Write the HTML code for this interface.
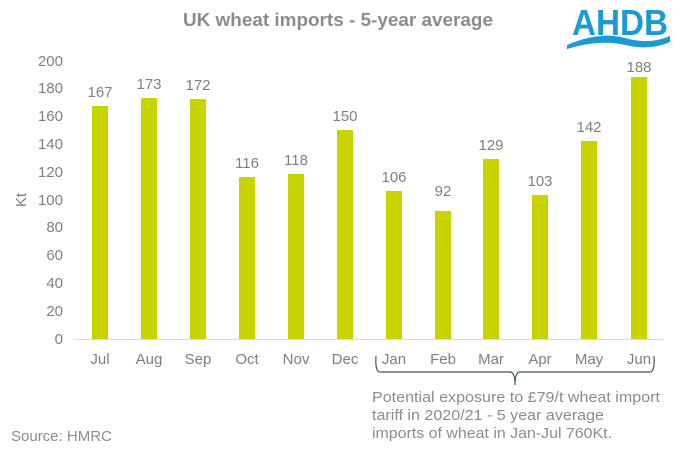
<!DOCTYPE html><html><head><style>body{margin:0;background:#fff}</style></head><body>
<svg width="677" height="452" xmlns="http://www.w3.org/2000/svg" font-family="Liberation Sans, Arial, sans-serif">
<text x="338" y="26" text-anchor="middle" font-size="18" font-weight="bold" fill="#8c8c8c" textLength="310" lengthAdjust="spacingAndGlyphs">UK wheat imports - 5-year average</text>
<text x="620" y="35" text-anchor="middle" font-size="36" font-weight="bold" fill="#1d9ad6" textLength="96" lengthAdjust="spacingAndGlyphs">AHDB</text>
<path d="M567 45 Q600 31 625 38 Q650 45 670 36 L670 42 Q650 51 625 45 Q600 39 567 49Z" fill="#1d9ad6"/>
<g font-size="15" fill="#7f7f7f" text-anchor="end">
<text x="63" y="344">0</text><text x="63" y="316">20</text><text x="63" y="288">40</text><text x="63" y="260">60</text><text x="63" y="232">80</text><text x="63" y="205">100</text><text x="63" y="177">120</text><text x="63" y="149">140</text><text x="63" y="121">160</text><text x="63" y="93">180</text><text x="63" y="66">200</text>
</g>
<text transform="translate(26,200) rotate(-90)" text-anchor="middle" font-size="15" fill="#7f7f7f">Kt</text>
<line x1="75" y1="339.5" x2="663" y2="339.5" stroke="#d9d9d9"/>
<g font-size="15" fill="#7f7f7f" text-anchor="middle">
<rect x="92" y="106" width="16" height="233" fill="#c8d400"/><text x="100" y="97">167</text><text x="100" y="364">Jul</text>
<rect x="141" y="98" width="16" height="241" fill="#c8d400"/><text x="149" y="89">173</text><text x="149" y="364">Aug</text>
<rect x="190" y="99" width="16" height="240" fill="#c8d400"/><text x="198" y="90">172</text><text x="198" y="364">Sep</text>
<rect x="239" y="177" width="16" height="162" fill="#c8d400"/><text x="247" y="168">116</text><text x="247" y="364">Oct</text>
<rect x="288" y="174" width="16" height="165" fill="#c8d400"/><text x="296" y="165">118</text><text x="296" y="364">Nov</text>
<rect x="337" y="130" width="16" height="209" fill="#c8d400"/><text x="345" y="121">150</text><text x="345" y="364">Dec</text>
<rect x="386" y="191" width="16" height="148" fill="#c8d400"/><text x="394" y="182">106</text><text x="394" y="364">Jan</text>
<rect x="435" y="211" width="16" height="128" fill="#c8d400"/><text x="443" y="196">92</text><text x="443" y="364">Feb</text>
<rect x="483" y="159" width="16" height="180" fill="#c8d400"/><text x="491" y="150">129</text><text x="491" y="364">Mar</text>
<rect x="532" y="195" width="16" height="144" fill="#c8d400"/><text x="540" y="186">103</text><text x="540" y="364">Apr</text>
<rect x="581" y="141" width="16" height="198" fill="#c8d400"/><text x="589" y="132">142</text><text x="589" y="364">May</text>
<rect x="631" y="77" width="16" height="262" fill="#c8d400"/><text x="639" y="72">188</text><text x="639" y="364">Jun</text>
</g>
<path d="M376 356 Q375 372 380 372 L510 372 Q515 372 515 385 Q515 372 520 372 L650 372 Q655 372 654 356" fill="none" stroke="#44546a" stroke-width="1.2"/>
<g font-size="15" fill="#8c8c8c">
<text x="372" y="402" textLength="288" lengthAdjust="spacingAndGlyphs">Potential exposure to £79/t wheat import</text>
<text x="372" y="420" textLength="232" lengthAdjust="spacingAndGlyphs">tariff in 2020/21 - 5 year average</text>
<text x="372" y="438" textLength="240" lengthAdjust="spacingAndGlyphs">imports of wheat in Jan-Jul 760Kt.</text>
<text x="11" y="441">Source: HMRC</text>
</g>
</svg></body></html>
